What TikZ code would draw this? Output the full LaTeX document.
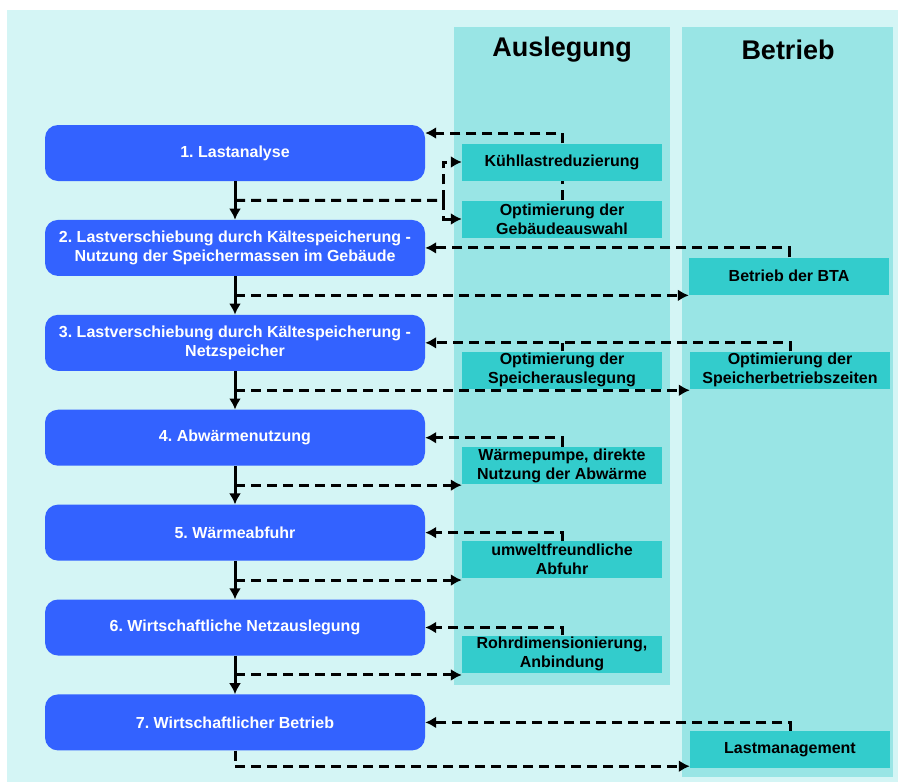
\documentclass[tikz,border=0pt]{standalone}
\usepackage{fontspec}
\setmainfont{Liberation Sans}
\usetikzlibrary{positioning, calc, arrows.meta}
\frenchspacing

\definecolor{stepblue}{RGB}{51,98,255}
\definecolor{measureteal}{RGB}{51,204,204}
\definecolor{columnteal}{RGB}{153,229,229}
\definecolor{panelcyan}{RGB}{212,245,245}

\tikzset{
	planpicture/.style = {
		x = 1pt,
		y = -1pt,
		node distance = 38.5pt,
		flow/.style = {
			draw,
			line width = 3pt,
			-{Latex[length = 11pt, width = 12pt]},
		},
		back/.style = {
			draw,
			line width = 3pt,
			dash pattern = on 10pt off 6pt,
			-{Latex[length = 11pt, width = 12pt]},
		},
		tick/.style = {
			draw,
			line width = 3pt,
			dash pattern = on 10pt off 6pt,
		}
	},
	stepnode/.style = {
		rectangle,
		rounded corners = 13pt,
		fill = stepblue,
		text = white,
		minimum width = 380pt,
		minimum height = 56pt,
		align = center,
		font = \bfseries\fontsize{16}{19}\selectfont
	},
	measure/.style = {
		rectangle,
		fill = measureteal,
		minimum width = 200pt,
		minimum height = 37pt,
		inner sep = 0pt,
		align = center,
		font = \bfseries\fontsize{16}{19}\selectfont
	},
	column/.style = {
		fill = columnteal
	},
	heading/.style = {
		font = \bfseries\fontsize{27}{30}\selectfont
	}
}

\begin{document}
\begin{tikzpicture}[planpicture]
	\useasboundingbox (0,0) rectangle (901,782);
	\fill[white] (0,0) rectangle (901,782);
	\fill[panelcyan] (7,10) rectangle (898,782);
	\fill[column] (454,27) rectangle (670,685);
	\fill[column] (682,27) rectangle (893,777);

	\node[heading] (HA) at (562,50) {Auslegung};
	\node[heading] (HB) at (788,50) {Betrieb};

	% Ablauf
	\node[stepnode] (S1) at (235,153) {1. Lastanalyse};
	\node[stepnode, below = of S1] (S2) {2. Lastverschiebung durch Kältespeicherung -\\Nutzung der Speichermassen im Gebäude};
	\node[stepnode, below = of S2] (S3) {3. Lastverschiebung durch Kältespeicherung -\\Netzspeicher};
	\node[stepnode, below = of S3] (S4) {4. Abwärmenutzung};
	\node[stepnode, below = of S4] (S5) {5. Wärmeabfuhr};
	\node[stepnode, below = of S5] (S6) {6. Wirtschaftliche Netzauslegung};
	\node[stepnode, below = of S6] (S7) {7. Wirtschaftlicher Betrieb};

	% Massnahmen
	\node[measure] (K) at (562,162) {Kühllastreduzierung};
	\node[measure] (G) at (562,219) {Optimierung der\\Gebäudeauswahl};
	\node[measure] (BTA) at (789,276) {Betrieb der BTA};
	\node[measure] (SA) at (562,370) {Optimierung der\\Speicherauslegung};
	\node[measure] (SZ) at (790,370) {Optimierung der\\Speicherbetriebszeiten};
	\node[measure] (W) at (562,465.5) {Wärmepumpe, direkte\\Nutzung der Abwärme};
	\node[measure] (U) at (562,559.5) {umweltfreundliche\\Abfuhr};
	\node[measure] (R) at (562,654) {Rohrdimensionierung,\\Anbindung};
	\node[measure] (LM) at (790,749.5) {Lastmanagement};

	\path[flow] (S1) -- coordinate (m1) (S2);
	\path[flow] (S2) -- coordinate (m2) (S3);
	\path[flow] (S3) -- coordinate (m3) (S4);
	\path[flow] (S4) -- coordinate (m4) (S5);
	\path[flow] (S5) -- coordinate (m5) (S6);
	\path[flow] (S6) -- coordinate (m6) (S7);

	\coordinate (j1) at ($(m1 -| S1.east)!0.5!(m1 -| K.west)$);

	\begin{scope}[every path/.style = back]
		\path (K.north) |- ([yshift = 20pt]S1.east);
		\path (BTA.north) |- (S2.east);
		\path (SZ.north) |- (S3.east);
		\path (W.north) |- (S4.east);
		\path (U.north) |- (S5.east);
		\path (R.north) |- (S6.east);
		\path (LM.north) |- (S7.east);

		\path (j1) |- (K.west);
		\path (j1) |- (G.west);
		\path (m2) -- (m2 -| BTA.west);
		\path (m3) -- (m3 -| SZ.west);
		\path (m4) -- (m4 -| W.west);
		\path (m5) -- (m5 -| U.west);
		\path (m6) -- (m6 -| R.west);
		\path (S7.south) |- ([yshift = 2pt]LM.south west);
	\end{scope}

	\path[tick] (m1) -- (j1);
	\path[tick] (G.north) -- (K.south);
	\path[tick] (SA.north) -- (SA.north |- S3.east);
\end{tikzpicture}
\end{document}
